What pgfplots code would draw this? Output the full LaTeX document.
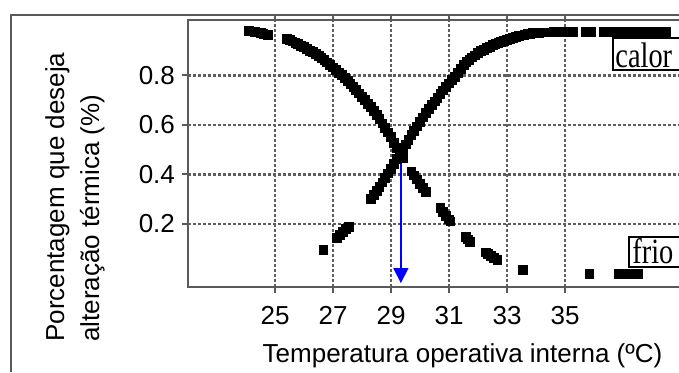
\documentclass[border=0pt]{standalone}
\usepackage{pgfplots}
\pgfplotsset{compat=1.18}
\usepackage{fontspec}
\setmainfont{Liberation Sans}
\newfontfamily\tnr{Liberation Serif}
\usetikzlibrary{arrows.meta}
\definecolor{axgray}{HTML}{5A5A5A}
\definecolor{gridgray}{HTML}{5E5E5E}

% frio: pessoas que desejam mais frio (curva decrescente)
\pgfplotstableread{
T y
24.10 0.978
24.20 0.977
24.30 0.975
24.40 0.973
24.50 0.970
24.60 0.968
24.76 0.964
25.40 0.947
25.50 0.942
25.60 0.937
25.70 0.932
25.80 0.926
25.90 0.920
26.00 0.913
26.10 0.906
26.20 0.899
26.30 0.893
26.40 0.886
26.50 0.878
26.60 0.870
26.70 0.861
26.80 0.852
26.90 0.842
27.00 0.832
27.10 0.822
27.20 0.811
27.30 0.800
27.40 0.789
27.50 0.777
27.60 0.765
27.70 0.752
27.80 0.740
27.90 0.727
28.00 0.714
28.10 0.700
28.20 0.686
28.30 0.671
28.40 0.656
28.50 0.640
28.60 0.623
28.70 0.606
28.80 0.589
28.90 0.570
29.00 0.550
29.10 0.528
29.20 0.508
29.30 0.488
29.40 0.468
29.70 0.412
29.80 0.396
29.90 0.380
30.00 0.363
30.10 0.346
30.20 0.329
30.70 0.264
30.80 0.249
30.90 0.234
31.00 0.219
31.05 0.211
31.57 0.147
31.65 0.138
31.72 0.129
32.27 0.086
32.35 0.078
32.45 0.070
32.55 0.063
32.67 0.055
33.56 0.015
35.84 0.000
36.86 0.000
36.96 0.000
37.06 0.000
37.16 0.000
37.50 0.000
}\frio

% calor: pessoas que desejam mais calor (curva crescente)
\pgfplotstableread{
T y
26.67 0.096
27.14 0.143
27.25 0.155
27.35 0.167
27.45 0.179
27.55 0.190
28.30 0.300
28.40 0.317
28.50 0.334
28.60 0.351
28.70 0.368
28.80 0.386
28.90 0.404
29.00 0.423
29.10 0.443
29.20 0.463
29.30 0.483
29.40 0.502
29.50 0.521
29.60 0.540
29.70 0.558
29.80 0.576
29.90 0.594
30.00 0.612
30.10 0.630
30.20 0.647
30.30 0.664
30.40 0.680
30.50 0.695
30.60 0.710
30.70 0.724
30.80 0.739
30.90 0.753
31.00 0.767
31.10 0.781
31.20 0.795
31.30 0.810
31.40 0.825
31.50 0.843
31.60 0.853
31.70 0.862
31.80 0.872
31.90 0.880
32.00 0.889
32.10 0.897
32.20 0.904
32.30 0.910
32.40 0.916
32.50 0.921
32.60 0.926
32.70 0.931
32.80 0.935
32.90 0.939
33.00 0.943
33.10 0.947
33.20 0.951
33.30 0.955
33.40 0.958
33.50 0.961
33.60 0.964
33.70 0.966
33.80 0.968
33.90 0.970
34.00 0.971
34.10 0.972
34.40 0.973
34.50 0.973
34.60 0.974
34.70 0.974
34.80 0.975
34.90 0.975
35.00 0.975
35.10 0.976
35.20 0.976
35.28 0.976
35.72 0.976
35.82 0.976
35.90 0.976
36.34 0.976
36.44 0.976
36.54 0.976
36.64 0.976
36.74 0.976
36.84 0.976
36.94 0.976
37.04 0.976
37.14 0.976
37.24 0.976
37.34 0.976
37.44 0.976
37.54 0.976
37.64 0.976
37.74 0.976
37.84 0.976
37.94 0.976
38.04 0.976
38.14 0.976
38.24 0.976
38.34 0.976
38.48 0.976
}\calor

\begin{document}
\begin{tikzpicture}
% moldura externa
\draw[axgray, line width=1pt] (5.5pt,-186pt) -- (5.5pt,-7.5pt) -- (345pt,-7.5pt);

\begin{axis}[
    at={(94pt,-143.5pt)}, anchor=south west,
    scale only axis,
    width=246.5pt, height=133.5pt,
    xmin=22, xmax=39,
    ymin=-0.054, ymax=1.023,
    xtick={25,27,29,31,33,35},
    ytick={0.2,0.4,0.6,0.8},
    tick align=outside,
    major tick length=3pt,
    every tick/.style={axgray, line width=1pt},
    axis line style={axgray, line width=1.3pt},
    grid=major,
    major grid style={gridgray, line width=1.25pt, dash pattern=on 1.3pt off 1.2pt},
    ticklabel style={font=\fontsize{13}{15}\selectfont},
    /pgf/number format/assume math mode=true,
    yticklabel style={/pgf/number format/fixed, /pgf/number format/precision=1},
    xticklabel style={yshift=-3pt},
    clip=false,
]
\addplot[only marks, mark=square*, mark size=2.2pt, black] table[x=T, y=y] {\frio};
\addplot[only marks, mark=square*, mark size=2.2pt, black] table[x=T, y=y] {\calor};
\draw[blue, line width=0.8pt, -{Triangle[width=7.5pt, length=7.5pt]}]
    (axis cs:29.34,0.458) -- (axis cs:29.34,-0.038);
\end{axis}

% caixas de texto
\draw[black, line width=0.6pt, fill=white] (306.5pt,-19pt) rectangle (345pt,-35pt);
\node[anchor=base west, inner sep=0pt, font=\tnr\fontsize{14.2}{16}\selectfont] at (307.5pt,-33.5pt) {\scalebox{1}[1.25]{calor}};
\draw[black, line width=0.6pt, fill=white] (314.5pt,-118.5pt) rectangle (345pt,-133.5pt);
\node[anchor=base west, inner sep=0pt, font=\tnr\fontsize{14.2}{16}\selectfont] at (316pt,-131.8pt) {\scalebox{1}[1.25]{frio}};

% rótulos dos eixos
\node[anchor=base, inner sep=0pt, font=\fontsize{13}{15}\selectfont] at (231.25pt,-181pt)
    {Temperatura operativa interna (ºC)};
\node[rotate=90, anchor=north west, inner sep=0pt, align=left,
      font=\fontsize{13}{17.5}\selectfont] at (22.5pt,-171pt)
    {Porcentagem que deseja\\alteração térmica (\%)};

\pgfresetboundingbox
\useasboundingbox (0pt,0pt) rectangle (339.5pt,-186pt);
\end{tikzpicture}
\end{document}
